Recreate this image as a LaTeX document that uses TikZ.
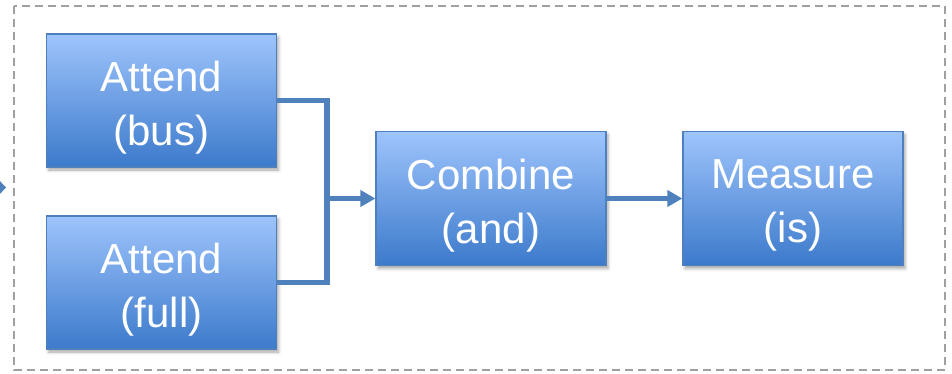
\documentclass[tikz,border=0pt]{standalone}
\usepackage{fontspec}
\setmainfont{Liberation Sans}
\usetikzlibrary{arrows.meta,shadows.blur}
\definecolor{boxtop}{RGB}{158,196,252}
\definecolor{boxbot}{RGB}{60,122,203}
\definecolor{boxline}{RGB}{78,128,190}
\definecolor{linkblue}{RGB}{79,129,189}
\definecolor{framegray}{RGB}{160,160,160}
\tikzset{
  opbox/.style={draw=boxline, line width=1.2pt, top color=boxtop, bottom color=boxbot,
    inner sep=0pt,
    blur shadow={shadow xshift=2pt, shadow yshift=-3pt, shadow blur radius=3pt, shadow opacity=35}},
  optext/.style={text=white, align=center, inner sep=0pt,
    font=\fontsize{42}{54}\selectfont},
  link/.style={draw=linkblue, line width=5.2pt, line join=miter},
  linktip/.style={-{Triangle[length=15pt,width=16pt]}}
}
\begin{document}
\begin{tikzpicture}[x=1pt,y=-1pt]
  \clip (0,0) rectangle (952,373);
  \useasboundingbox (0,0) rectangle (952,373);
  % dashed enclosing frame
  \draw[framegray, line width=2pt, dash pattern=on 8pt off 5pt] (14,6) rectangle (945,370);
  % tip of the incoming arrow, left of the frame
  \fill[linkblue] (-2,179) -- (6,187.5) -- (-2,196) -- cycle;
  % operation boxes
  \node[opbox, minimum width=230pt, minimum height=133pt] (bus) at (161.5,100.5) {};
  \node[opbox, minimum width=230pt, minimum height=133pt] (full) at (161.5,282.5) {};
  \node[opbox, minimum width=230pt, minimum height=134pt] (comb) at (491,198.5) {};
  \node[opbox, minimum width=220pt, minimum height=134pt] (meas) at (793,198.5) {};
  % box captions
  \node[optext] (busT)  at ([yshift=-7pt]bus.center)  {Attend\\(bus)};
  \node[optext] (fullT) at ([yshift=-7pt]full.center) {Attend\\(full)};
  \node[optext] (combT) at ([yshift=-7pt]comb.center) {Combine\\(and)};
  \node[optext] (measT) at ([yshift=-7pt]meas.center) {Measure\\(is)};
  % merge connector
  \coordinate (j) at (327,198.5);
  \draw[link] (bus.east) -- (327,100.5) -- (327,282.5) -- (full.east);
  \draw[link, linktip] (j) -- (comb.west);
  \draw[link, linktip] (comb.east) -- (meas.west);
\end{tikzpicture}
\end{document}
